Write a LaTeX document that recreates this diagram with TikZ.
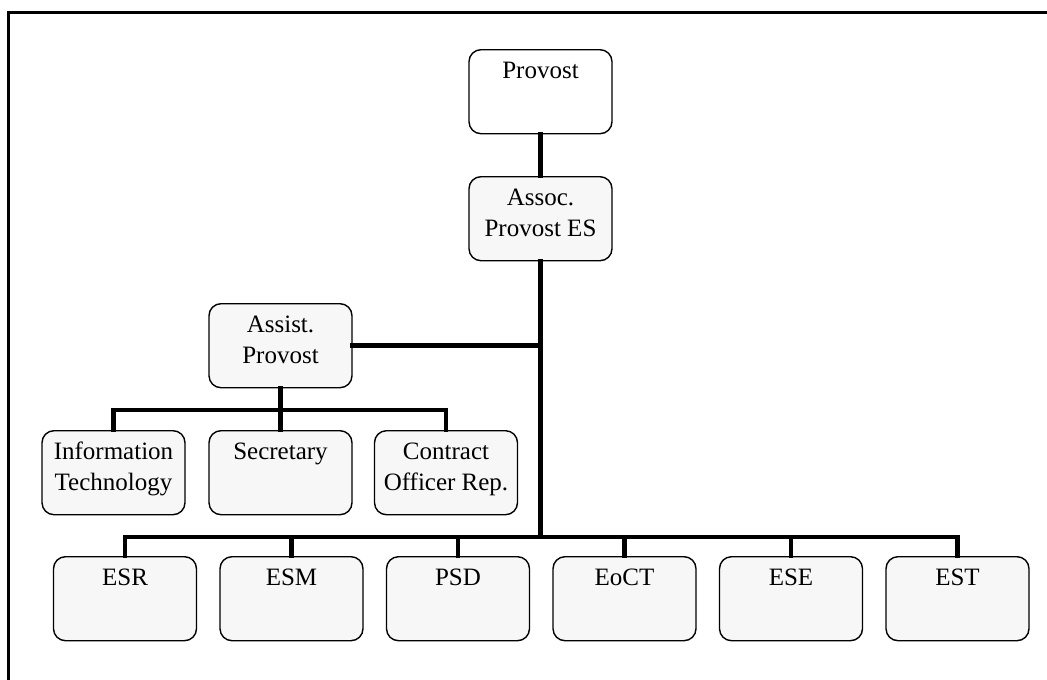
\documentclass[tikz,border=0pt]{standalone}
\usepackage{fontspec}
\setmainfont{Liberation Serif}
\newcommand{\boxtext}[1]{\parbox[c][84pt][t]{143pt}{\centering\fontsize{25}{31}\selectfont\rule{0pt}{28.5pt}#1}}
\tikzset{
  orgbox/.style={draw=black, line width=1.4pt, rounded corners=12pt, fill=black!3,
    minimum width=143pt, minimum height=84pt, inner sep=0pt, anchor=north},
  conn/.style={line width=4.5pt, line cap=rect, line join=miter},
  frame/.style={line width=3pt}
}
\begin{document}
\begin{tikzpicture}[x=1pt,y=-1pt]
\useasboundingbox (0,0) rectangle (1047,680);
\draw[frame] (1047,12) -- (8,12) -- (8,680);

\node[orgbox, fill=white] (prov) at (540.5,49) {\boxtext{Provost}};
\node[orgbox] (assoc) at (540.5,176) {\boxtext{Assoc.\\Provost ES}};
\node[orgbox] (assist) at (280.5,303) {\boxtext{Assist.\\Provost}};
\node[orgbox] (it) at (113.5,430) {\boxtext{Information\\Technology}};
\node[orgbox] (sec) at (280.5,430) {\boxtext{Secretary}};
\node[orgbox] (cor) at (446,430) {\boxtext{Contract\\Officer Rep.}};

\node[orgbox] (esr) at (125,556) {\boxtext{ESR}};
\node[orgbox] (esm) at (291.5,556) {\boxtext{ESM}};
\node[orgbox] (psd) at (458,556) {\boxtext{PSD}};
\node[orgbox] (eoct) at (624.5,556) {\boxtext{EoCT}};
\node[orgbox] (ese) at (791,556) {\boxtext{ESE}};
\node[orgbox] (est) at (957.5,556) {\boxtext{EST}};

\coordinate (abar) at (280.5,410);
\coordinate (bbar) at (540.5,537);

\draw[conn] (prov.south) -- (assoc.north);
\draw[conn] (assoc.south) -- (bbar);
\draw[conn] (assist.east) -- (assist.east -| bbar);
\draw[conn] (assist.south) -- (sec.north);
\draw[conn] (it.north) |- (abar) -| (cor.north);
\draw[conn] (esr.north) |- (bbar) -| (est.north);
\draw[conn] (esm.north) -- (esm.north |- bbar);
\draw[conn] (psd.north) -- (psd.north |- bbar);
\draw[conn] (eoct.north) -- (eoct.north |- bbar);
\draw[conn] (ese.north) -- (ese.north |- bbar);
\end{tikzpicture}
\end{document}
